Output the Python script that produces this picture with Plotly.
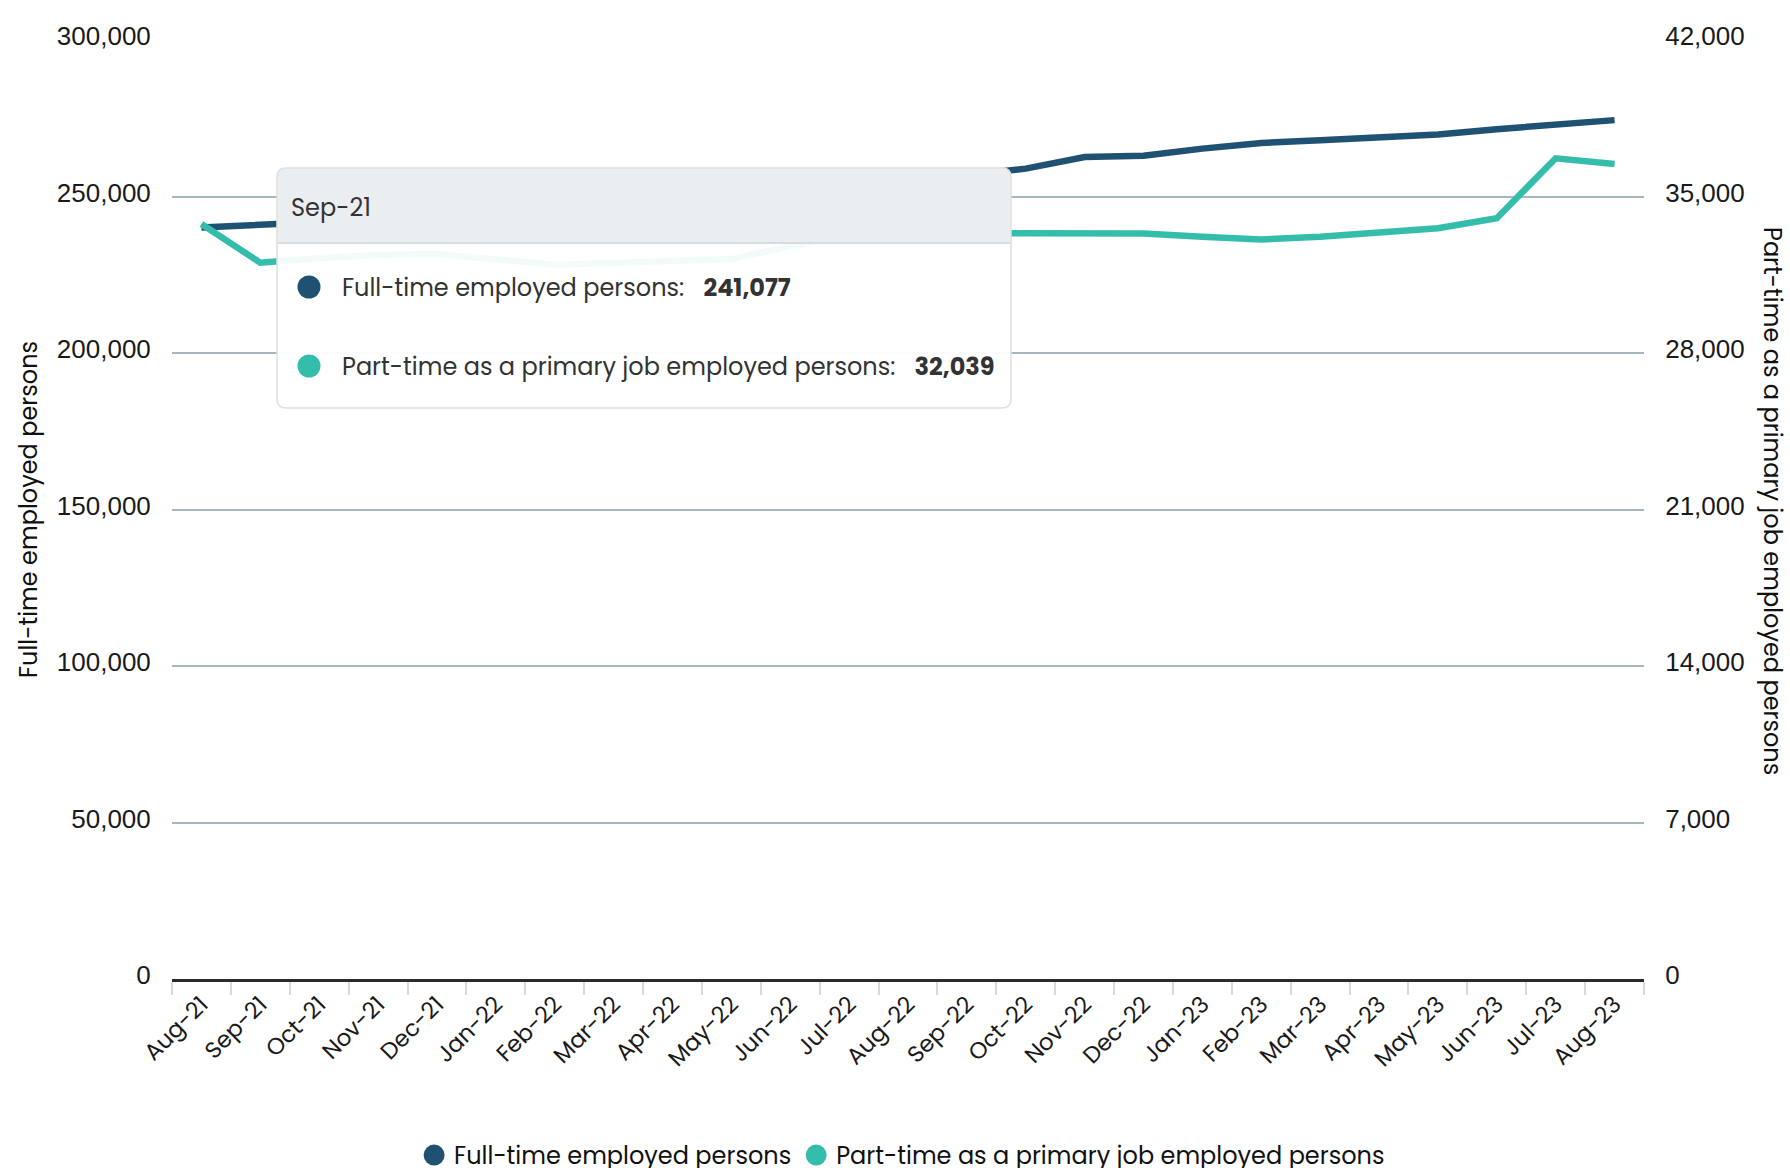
import plotly.graph_objects as go

# ---------------- data ----------------
categories = ["Aug-21", "Sep-21", "Oct-21", "Nov-21", "Dec-21", "Jan-22", "Feb-22", "Mar-22",
              "Apr-22", "May-22", "Jun-22", "Jul-22", "Aug-22", "Sep-22", "Oct-22", "Nov-22",
              "Dec-22", "Jan-23", "Feb-23", "Mar-23", "Apr-23", "May-23", "Jun-23", "Jul-23", "Aug-23"]

full_time = [240100, 241077, 241600, 242700, 243500, 244300, 245400, 246800, 248100, 249600,
             251200, 253000, 254900, 256900, 258900, 262600, 263000, 265300, 267100, 268000,
             268700, 269800, 271500, 273200, 274400]

part_time = [33770, 32039, 32250, 32380, 32430, 32200, 31950, 32030, 32120, 32200,
             32780, 33280, 33370, 33360, 33350, 33360, 33350, 33200, 33080, 33200,
             33380, 33580, 34030, 36710, 36450]

left_ticks = [0, 50000, 100000, 150000, 200000, 250000, 300000]
right_ticks = [0, 7000, 14000, 21000, 28000, 35000, 42000]

name_full = "Full-time employed persons"
name_part = "Part-time as a primary job employed persons"
tooltip_index = 1  # Sep-21

# ---------------- style ----------------
W, H = 1790, 1168
ML, MR, MT, MB = 172, 146, 40, 189
PW, PH = W - ML - MR, H - MT - MB
C_FULL = "#1f5272"
C_PART = "#35bdab"
GRID = "#a8b6bf"
SANS_NUM = "Liberation Sans, Arial, sans-serif"
SANS_TXT = "Poppins, Open Sans, sans-serif"
TXT_SIZE = 24


def px(x):
    return (x - ML) / PW


def py(y):
    return (MT + PH - y) / PH


def rrect(x0, y0, x1, y1, r, top_only=False):
    rb = 0 if top_only else r
    pts = []
    pts.append(f"M {px(x0 + r)},{py(y0)}")
    pts.append(f"L {px(x1 - r)},{py(y0)}")
    pts.append(f"Q {px(x1)},{py(y0)} {px(x1)},{py(y0 + r)}")
    pts.append(f"L {px(x1)},{py(y1 - rb)}")
    if rb:
        pts.append(f"Q {px(x1)},{py(y1)} {px(x1 - rb)},{py(y1)}")
    pts.append(f"L {px(x0 + rb)},{py(y1)}")
    if rb:
        pts.append(f"Q {px(x0)},{py(y1)} {px(x0)},{py(y1 - rb)}")
    pts.append(f"L {px(x0)},{py(y0 + r)}")
    pts.append(f"Q {px(x0)},{py(y0)} {px(x0 + r)},{py(y0)}")
    pts.append("Z")
    return " ".join(pts)


fig = go.Figure()

fig.add_trace(go.Scatter(x=categories, y=full_time, mode="lines", name=name_full,
                         line=dict(color=C_FULL, width=6.5), showlegend=False, yaxis="y"))
fig.add_trace(go.Scatter(x=categories, y=part_time, mode="lines", name=name_part,
                         line=dict(color=C_PART, width=6.5), showlegend=False, yaxis="y2"))
# legend entries (circle symbols)
fig.add_trace(go.Scatter(x=[None], y=[None], mode="markers", name=name_full,
                         marker=dict(color=C_FULL, size=16, symbol="circle",
                                     line=dict(color=C_FULL, width=5))))
fig.add_trace(go.Scatter(x=[None], y=[None], mode="markers", name=name_part,
                         marker=dict(color=C_PART, size=16, symbol="circle",
                                     line=dict(color=C_PART, width=5))))

# ---------------- tooltip (static hover box) ----------------
TX0, TY0, TX1, TY1, THB = 277, 168, 1011, 408, 243
shapes = [
    dict(type="path", xref="paper", yref="paper", path=rrect(TX0, TY0, TX1, TY1, 9),
         fillcolor="rgba(255,255,255,0.94)", line=dict(width=0), layer="above"),
    dict(type="path", xref="paper", yref="paper", path=rrect(TX0, TY0, TX1, THB, 9, top_only=True),
         fillcolor="#ebeef0", line=dict(width=0), layer="above"),
    dict(type="line", xref="paper", yref="paper", x0=px(TX0), x1=px(TX1), y0=py(THB), y1=py(THB),
         line=dict(color="#d9dcdf", width=2), layer="above"),
    dict(type="path", xref="paper", yref="paper", path=rrect(TX0, TY0, TX1, TY1, 9),
         fillcolor="rgba(0,0,0,0)", line=dict(color="#dedfe0", width=1.5), layer="above"),
]
for cy, col in [(287, C_FULL), (366, C_PART)]:
    r = 11.5
    shapes.append(dict(type="circle", xref="paper", yref="paper",
                       x0=px(309 - r), x1=px(309 + r), y0=py(cy + r), y1=py(cy - r),
                       fillcolor=col, line=dict(width=0), layer="above"))

GAP = "\u00a0\u00a0\u00a0"
annotations = [
    dict(xref="paper", yref="paper", x=px(289), y=py(207), xanchor="left", yanchor="middle",
         text=categories[tooltip_index], showarrow=False,
         font=dict(family=SANS_TXT, size=TXT_SIZE, color="#333333")),
    dict(xref="paper", yref="paper", x=px(340), y=py(287), xanchor="left", yanchor="middle",
         text=f"{name_full}:{GAP}<b>{full_time[tooltip_index]:,}</b>", showarrow=False,
         font=dict(family=SANS_TXT, size=TXT_SIZE, color="#333333")),
    dict(xref="paper", yref="paper", x=px(340), y=py(366), xanchor="left", yanchor="middle",
         text=f"{name_part}:{GAP}<b>{part_time[tooltip_index]:,}</b>", showarrow=False,
         font=dict(family=SANS_TXT, size=TXT_SIZE, color="#333333")),
    # right axis title (reads top-to-bottom)
    dict(xref="paper", yref="paper", x=px(1773), y=py(501), xanchor="center", yanchor="middle",
         text=name_part, textangle=90, showarrow=False,
         font=dict(family=SANS_TXT, size=TXT_SIZE, color="#111111")),
]

fig.update_layout(
    width=W, height=H,
    margin=dict(l=ML, r=MR, t=MT, b=MB, autoexpand=False),
    paper_bgcolor="white", plot_bgcolor="white",
    hovermode=False,
    showlegend=True,
    legend=dict(orientation="h", x=0.496, xanchor="center", y=py(1133), yanchor="top",
                font=dict(family=SANS_TXT, size=TXT_SIZE, color="#111111"),
                itemsizing="trace", bgcolor="rgba(0,0,0,0)"),
    xaxis=dict(type="category", categoryorder="array", categoryarray=categories,
               range=[-0.5, len(categories) - 0.5],
               showgrid=False, showline=True, linecolor="#2b2b2b", linewidth=2.5,
               ticks="outside", tickson="boundaries", ticklen=13, tickwidth=2, tickcolor="#d9d9d9",
               tickangle=-45, tickfont=dict(family=SANS_TXT, size=23, color="#1a1a1a"),
               zeroline=False, automargin=False),
    yaxis=dict(range=[0, 300000], tickvals=left_ticks,
               ticktext=[f"{v:,}" for v in left_ticks],
               showgrid=True, gridcolor=GRID, gridwidth=2, zeroline=False,
               ticks="outside", ticklen=15, tickcolor="rgba(0,0,0,0)",
               ticklabelshift=-4,
               tickfont=dict(family=SANS_NUM, size=26, color="#1a1a1a"),
               title=dict(text=name_full, standoff=12,
                          font=dict(family=SANS_TXT, size=TXT_SIZE, color="#111111")),
               automargin=False),
    yaxis2=dict(range=[0, 42000], tickvals=right_ticks,
                ticktext=[f"{v:,}" for v in right_ticks],
                overlaying="y", side="right", showgrid=False, zeroline=False,
                ticks="outside", ticklen=15, tickcolor="rgba(0,0,0,0)",
                ticklabelshift=-4,
                tickfont=dict(family=SANS_NUM, size=26, color="#1a1a1a"),
                automargin=False),
    shapes=shapes,
    annotations=annotations,
)

fig.write_html("out.html", config={"displayModeBar": False},
               post_script="document.body.style.margin='0';")
